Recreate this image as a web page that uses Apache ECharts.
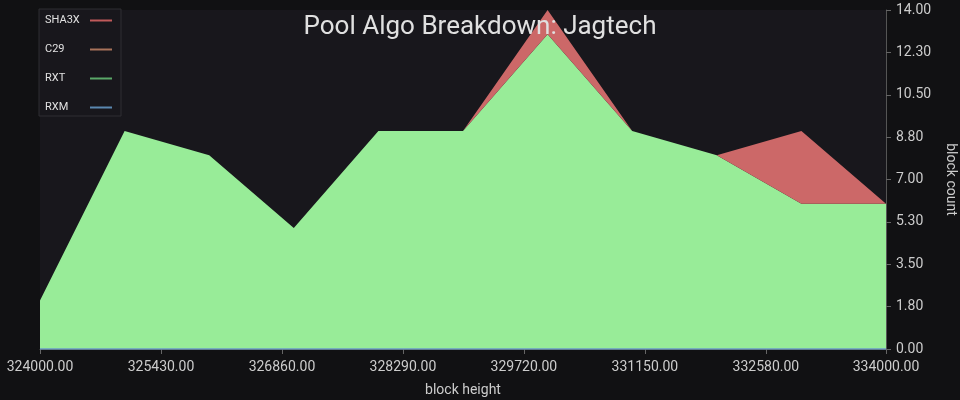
<!DOCTYPE html>
<html>
<head>
<meta charset="utf-8">
<script src="https://cdn.jsdelivr.net/npm/echarts@6/dist/echarts.min.js"></script>
<style>
html, body { margin: 0; padding: 0; background: #111113; }
#chart { width: 960px; height: 400px; }
</style>
</head>
<body>
<div id="chart"></div>
<script>
var blockHeights = [324000, 325000, 326000, 327000, 328000, 329000, 330000, 331000, 332000, 333000, 334000];
var rxm = [0, 0, 0, 0, 0, 0, 0, 0, 0, 0, 0];
var rxt = [2, 9, 8, 5, 9, 9, 13, 9, 8, 6, 6];
var c29 = [0, 0, 0, 0, 0, 0, 0, 0, 0, 0, 0];
var sha3x = [0, 0, 0, 0, 0, 0, 1, 0, 0, 3, 0];
var legendNames = ['SHA3X', 'C29', 'RXT', 'RXM'];

function areaSeries(name, vals, lineColor, fillColor, edge) {
    return {
        name: name,
        type: 'line',
        stack: 'algo',
        xAxisIndex: 0,
        data: vals,
        symbol: 'none',
        itemStyle: { color: lineColor },
        lineStyle: edge ? { color: edge, width: 1.5 } : { width: 0, opacity: 0 },
        areaStyle: { color: fillColor, opacity: 1 }
    };
}

var myChart = echarts.init(document.getElementById('chart'));

var option = {
    backgroundColor: '#111113',
    animation: false,
    textStyle: { fontFamily: 'Roboto' },
    title: {
        text: 'Pool Algo Breakdown: Jagtech',
        left: 'center',
        top: 9,
        textStyle: { color: '#e0e0e0', fontSize: 26, fontWeight: 'normal', fontFamily: 'Roboto' }
    },
    legend: {
        data: legendNames,
        orient: 'vertical',
        left: 39,
        top: 9,
        align: 'right',
        icon: 'rect',
        itemWidth: 22,
        itemHeight: 2,
        itemGap: 18,
        padding: [6, 9, 3, 6],
        backgroundColor: '#18171c',
        borderColor: '#2e2e33',
        borderWidth: 1,
        textStyle: {
            color: '#e0e0e0',
            fontSize: 11,
            rich: {}
        },
        formatter: function (name) { return '{n|' + name + '}'; },
        itemStyle: { borderWidth: 0 }
    },
    grid: {
        left: 40,
        right: 74,
        top: 10,
        bottom: 51,
        outerBoundsMode: 'none'
    },
    xAxis: [{
        type: 'category',
        data: blockHeights,
        boundaryGap: false,
        position: 'top',
        show: false
    }, {
        type: 'value',
        position: 'bottom',
        min: 324000,
        max: 334000,
        interval: 1430,
        name: 'block height',
        nameLocation: 'middle',
        nameGap: 34,
        nameTextStyle: { color: '#cccccc', fontSize: 14 },
        axisLine: { show: true, lineStyle: { color: '#555555' } },
        axisTick: { show: true, length: 5, lineStyle: { color: '#666666' } },
        axisLabel: {
            color: '#cccccc',
            fontSize: 14,
            margin: 11,
            showMaxLabel: true,
            formatter: function (v) { return v.toFixed(2); }
        },
        splitLine: { show: false }
    }],
    yAxis: {
        type: 'value',
        position: 'right',
        min: 0,
        max: 14,
        interval: 1.75,
        name: 'block count',
        nameLocation: 'middle',
        nameGap: 57,
        nameRotate: -90,
        nameTextStyle: { color: '#cccccc', fontSize: 14 },
        axisLine: { show: true, lineStyle: { color: '#555555' } },
        axisTick: { show: true, length: 5, lineStyle: { color: '#666666' } },
        axisLabel: {
            color: '#cccccc',
            fontSize: 14,
            margin: 10,
            formatter: function (v) { return (Math.round(v * 10) / 10).toFixed(2); }
        },
        splitLine: { show: false },
        splitArea: { show: true, areaStyle: { color: ['#18171c'] } }
    },
    series: [
        areaSeries('RXM', rxm, '#5a88b0', '#6f9fd0', '#6a9cc8'),
        areaSeries('RXT', rxt, '#5aa868', '#98ec98'),
        areaSeries('C29', c29, '#a8735a', '#d0906c'),
        areaSeries('SHA3X', sha3x, '#c05a5a', '#cc6868')
    ]
};

option.legend.textStyle.rich.n = { width: 40, align: 'left', fontSize: 11, color: '#e0e0e0' };

myChart.setOption(option, true);
</script>
</body>
</html>
